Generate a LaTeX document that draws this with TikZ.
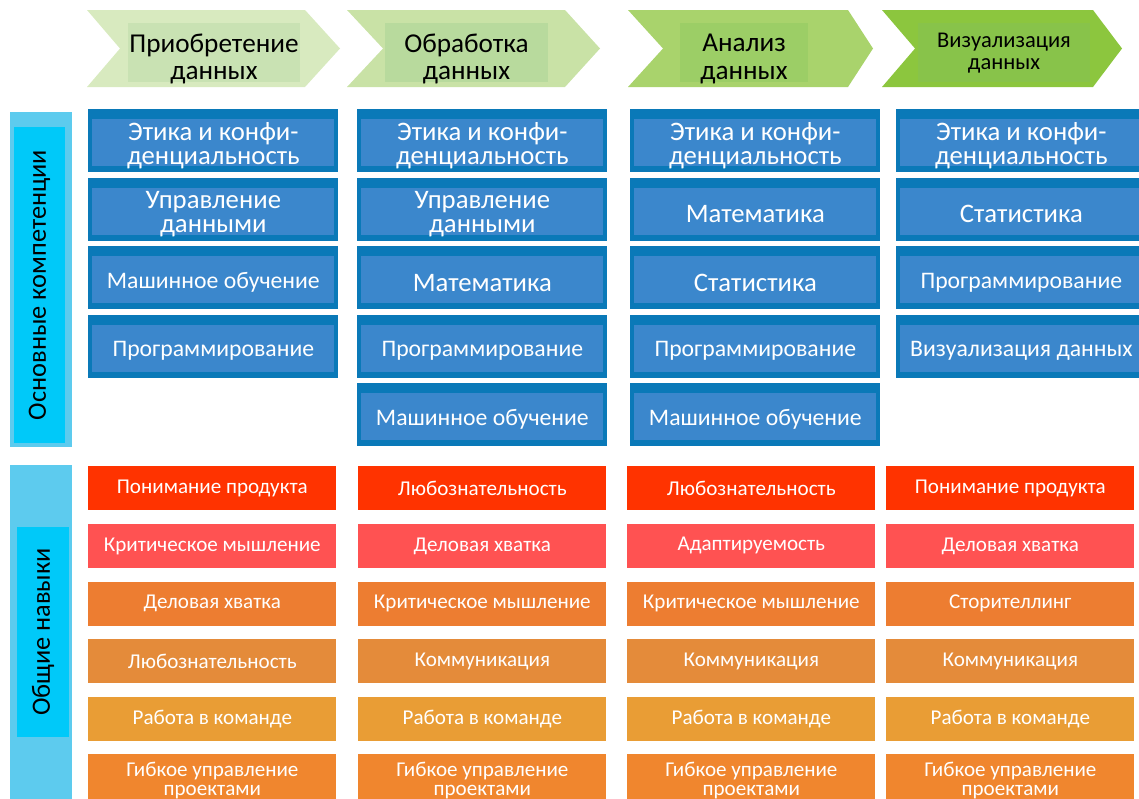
\documentclass[tikz,border=0pt]{standalone}
\usepackage{fontspec}
\setmainfont{Carlito}

\definecolor{chevA}{HTML}{D8EABF}
\definecolor{chevAin}{HTML}{C9E2B3}
\definecolor{chevB}{HTML}{C9E2A6}
\definecolor{chevBin}{HTML}{B8DA9D}
\definecolor{chevC}{HTML}{A9D36C}
\definecolor{chevCin}{HTML}{9CCE66}
\definecolor{chevD}{HTML}{8CC63E}
\definecolor{chevDin}{HTML}{88C34A}
\definecolor{coreDark}{HTML}{0A79B8}
\definecolor{coreLight}{HTML}{3B87CC}
\definecolor{sideOut}{HTML}{5DCBEE}
\definecolor{sideIn}{HTML}{00C9F9}
\definecolor{skill1}{HTML}{FF3300}
\definecolor{skill2}{HTML}{FF5252}
\definecolor{skill3}{HTML}{ED7D31}
\definecolor{skill4}{HTML}{E48B3A}
\definecolor{skill5}{HTML}{E99D35}
\definecolor{skill6}{HTML}{F0862E}

\begin{document}
\begin{tikzpicture}[x=0.02cm, y=-0.02cm,
    stage/.style={align=center, text=black, font=\fontsize{15.5}{14.5}\selectfont},
    core/.style={anchor=north west, fill=coreDark, inner sep=0pt,
        minimum width=5cm, minimum height=1.26cm,
        path picture={\fill[coreLight] ([shift={(2.3pt,-5.7pt)}]path picture bounding box.north west)
            rectangle ([shift={(-2.3pt,3.4pt)}]path picture bounding box.south east);}},
    coretext/.style={text=white, align=center, inner sep=0pt,
        font=\fontsize{15.2}{14}\selectfont},
    skill/.style={anchor=north west, inner sep=0pt, minimum width=4.96cm,
        minimum height=0.88cm, text=white, align=center,
        font=\fontsize{12}{10.8}\selectfont},
    side/.style={fill=sideOut, inner sep=0pt, minimum width=1.24cm},
    sidetext/.style={fill=sideIn, inner sep=0pt, rotate=90, text=black,
        font=\fontsize{15}{16}\selectfont}]
\def\sm{\fontsize{13.5}{14}\selectfont}
\useasboundingbox (0,0) rectangle (1139,798);
\clip (0,0) rectangle (1139,798);

% Stages (chevrons): left edge, notch, tip, tip depth, inner box, colour
\foreach \xa/\nd/\xb/\td/\ia/\ib/\col/\name/\fs/\txt in {
    87/33/340/35/128/300/chevA/stA/15.5/{Приобретение\\данных},
    347/36/600/35/385/548/chevB/stB/15.5/{Обработка\\данных},
    628/35/873/25/680/808/chevC/stC/15.5/{Анализ\\данных},
    882/33/1122/29/918/1090/chevD/stD/12.8/{Визуализация\\данных}} {
    \fill[\col] (\xa,10) -- (\xb-\td,10) -- (\xb,48.5) -- (\xb-\td,87)
        -- (\xa,87) -- (\xa+\nd,48.5) -- cycle;
    \fill[\col in] (\ia,23) rectangle (\ib,82);
    \node[stage, font=\fontsize{\fs}{\fs}\selectfont] (\name) at ({(\ia+\ib)/2},{\fs>14 ? 59 : 53}) {\txt};
}

% Side labels
\node[side, minimum height=6.7cm] (coreSide) at (41,279.5) {};
\node[sidetext, minimum width=6.32cm, minimum height=1.02cm] (coreLabel) at (39.5,285) {Основные компетенции};
\node[side, minimum height=6.9cm] (softSide) at (41,637.5) {};
\node[sidetext, minimum width=4.2cm, minimum height=1.04cm] (softLabel) at (43,632) {Общие навыки};

% Core competencies
\foreach \col/\x/\list in {
    A/88/{Этика и конфи-\\денциальность, Управление\\данными, \sm Машинное обучение, \sm Программирование},
    B/357/{Этика и конфи-\\денциальность, Управление\\данными, Математика, \sm Программирование, \sm Машинное обучение},
    C/630/{Этика и конфи-\\денциальность, Математика, Статистика, \sm Программирование, \sm Машинное обучение},
    D/896/{Этика и конфи-\\денциальность, Статистика, \sm Программирование, \sm Визуализация данных}}
  \foreach \t [count=\r] in \list {
    \node[core] (core\col\r) at (\x,{109+(\r-1)*68.5}) {};
    \node[coretext] (core\col\r t) at ([yshift=-2.8pt]core\col\r.center) {\t};
  }

% Soft skills
\foreach \col/\x/\list in {
    A/88/{Понимание продукта, Критическое мышление, Деловая хватка,
        Любознательность, Работа в команде, Гибкое управление\\проектами},
    B/358/{Любознательность, Деловая хватка, Критическое мышление,
        Коммуникация, Работа в команде, Гибкое управление\\проектами},
    C/627/{Любознательность, Адаптируемость, Критическое мышление,
        Коммуникация, Работа в команде, Гибкое управление\\проектами},
    D/886/{Понимание продукта, Деловая хватка, Сторителлинг,
        Коммуникация, Работа в команде, Гибкое управление\\проектами}}
  \foreach \t [count=\r] in \list
    \node[skill, fill=skill\r, minimum height={\r==6 ? 1.04cm : 0.88cm}] (soft\col\r) at (\x,{466+(\r-1)*57.6}) {\t};
\end{tikzpicture}
\end{document}
